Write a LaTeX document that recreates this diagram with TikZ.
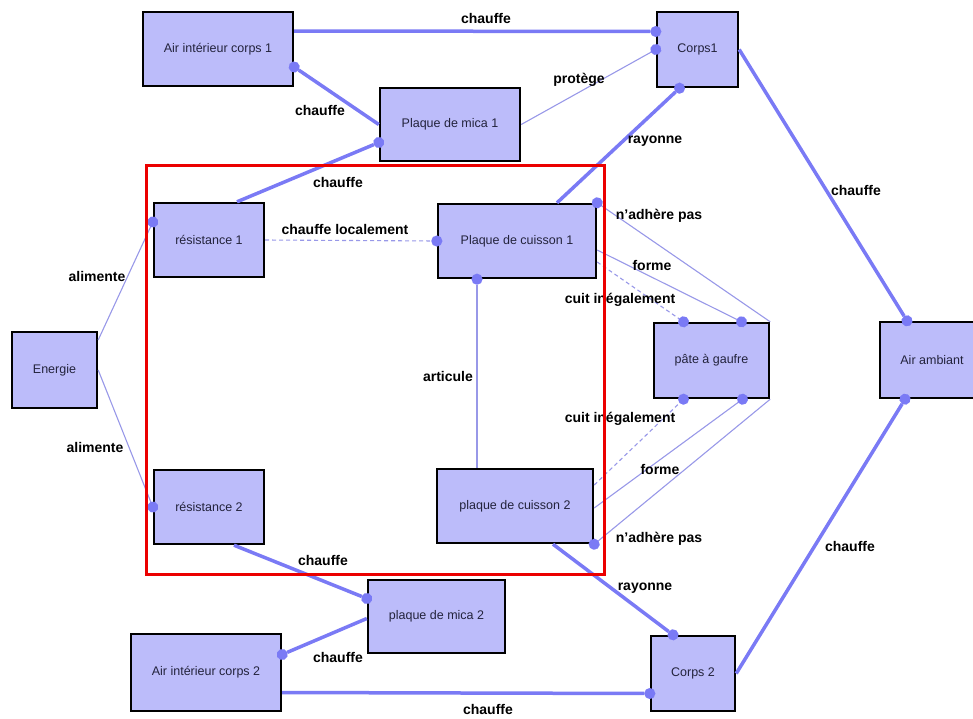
\documentclass[tikz,border=0pt]{standalone}
\usepackage{fontspec}
\setmainfont{Liberation Sans}
\usetikzlibrary{arrows.meta}
\definecolor{boxfill}{RGB}{188,188,250}
\definecolor{linkblue}{RGB}{122,122,245}
\definecolor{linkpale}{RGB}{152,152,232}
\definecolor{ink}{RGB}{35,35,60}
\definecolor{alarm}{RGB}{235,0,0}
\tikzset{
  box/.style={draw=black,line width=2.4pt,fill=boxfill,text=ink,inner sep=2pt,
              font=\fontsize{12.5}{15}\selectfont,minimum height=74pt},
  lnk/.style={draw=linkblue,line width=3.5pt},
  weak/.style={draw=linkpale,line width=1.1pt},
  loose/.style={weak,dash pattern=on 4pt off 3pt},
  hit/.style={-{Circle[length=11pt,width=11pt,line width=0.01pt,color=linkblue]},
              shorten >=-5.5pt},
  tag/.style={font=\bfseries\fontsize{14}{16}\selectfont,text=black,inner sep=0pt},
}
\begin{document}
\begin{tikzpicture}[x=1pt,y=-1pt]
    \useasboundingbox (0,0) rectangle (973,718);
    \node[box,minimum width=150pt] (ai1) at (218,49) {Air intérieur corps 1};
    \node[box,minimum width=81pt,minimum height=75pt] (c1) at (697.5,49.5) {Corps1};
    \node[box,minimum width=140pt,minimum height=73pt] (pm1) at (450,124.5) {Plaque de mica 1};
    \node[box,minimum width=110pt] (r1) at (209,240) {résistance 1};
    \node[box,minimum width=158pt] (pc1) at (517,241) {Plaque de cuisson 1};
    \node[box,minimum width=85pt,minimum height=76pt] (en) at (54.5,370) {Energie};
    \node[box,minimum width=115pt,minimum height=75pt] (pg) at (711.5,360.5) {pâte à gaufre};
    \node[box,minimum width=104pt,minimum height=76pt] (aa) at (932,360) {Air ambiant};
    \node[box,minimum width=110pt] (r2) at (209,507) {résistance 2};
    \node[box,minimum width=156pt] (pc2) at (515,506) {plaque de cuisson 2};
    \node[box,minimum width=137pt,minimum height=73pt] (pm2) at (436.5,616.5) {plaque de mica 2};
    \node[box,minimum width=150pt,minimum height=77pt] (ai2) at (206,672.5) {Air intérieur corps 2};
    \node[box,minimum width=84pt,minimum height=75pt] (c2) at (693,673.5) {Corps 2};

    \draw[lnk,hit] ([yshift=18pt]ai1.east) -- ([yshift=18pt]c1.west);
    \draw[lnk,hit] (pm1.west) -- ([yshift=-18pt]ai1.east);
    \draw[weak,hit] (pm1.east) -- (c1.west);
    \draw[lnk,hit] ([xshift=28pt]r1.north) -- ([yshift=-18pt]pm1.west);
    \draw[lnk,hit] ([xshift=40pt]pc1.north) -- ([xshift=-18pt]c1.south);
    \draw[lnk,hit] (c1.east) -- ([xshift=-25pt]aa.north);
    \draw[weak,hit] ([yshift=30pt]en.east) -- ([yshift=18pt]r1.west);
    \draw[weak,hit] (en.east) -- (r2.west);
    \draw[loose,hit] (r1.east) -- (pc1.west);
    \draw[weak,hit] ([xshift=-38pt]pc2.north) -- ([xshift=-40pt]pc1.south);
    \draw[weak,hit] (pg.north east) -- (pc1.north east);
    \draw[weak,hit] ([yshift=-9pt]pc1.east) -- ([xshift=30pt]pg.north);
    \draw[loose,hit] ([yshift=-21pt]pc1.east) -- ([xshift=-28pt]pg.north);
    \draw[loose,hit] ([yshift=21pt]pc2.east) -- ([xshift=-28pt]pg.south);
    \draw[weak,hit] ([yshift=-2pt]pc2.east) -- ([xshift=31pt]pg.south);
    \draw[weak,hit] (pg.south east) -- (pc2.south east);
    \draw[lnk,hit] ([xshift=25pt]r2.south) -- ([yshift=18pt]pm2.west);
    \draw[lnk,hit] ([yshift=-2pt]pm2.west) -- ([yshift=18pt]ai2.east);
    \draw[lnk,hit] ([yshift=-20pt]ai2.east) -- ([yshift=-20pt]c2.west);
    \draw[lnk,hit] ([xshift=38pt]pc2.south) -- ([xshift=-20pt]c2.north);
    \draw[lnk,hit] (c2.east) -- ([xshift=-27pt]aa.south);

    \node[tag] (t1) at (486,18) {chauffe};
    \node[tag] (t2) at (320,110) {chauffe};
    \node[tag] (t3) at (579,80) {protège};
    \node[tag] (t4) at (338,182) {chauffe};
    \node[tag] (t5) at (655,141) {rayonne};
    \node[tag] (t6) at (856,190) {chauffe};
    \node[tag] (t7) at (97,276) {alimente};
    \node[tag] (t8) at (95,447) {alimente};
    \node[tag] (t9) at (345,229) {chauffe localement};
    \node[tag] (t10) at (448,376) {articule};
    \node[tag] (t11) at (659,216) {n'adhère pas};
    \node[tag] (t12) at (652,265) {forme};
    \node[tag] (t13) at (620,300) {cuit inégalement};
    \node[tag] (t14) at (620,419) {cuit inégalement};
    \node[tag] (t15) at (660,469) {forme};
    \node[tag] (t16) at (659,539) {n'adhère pas};
    \node[tag] (t17) at (323,560) {chauffe};
    \node[tag] (t18) at (338,657) {chauffe};
    \node[tag] (t19) at (488,709) {chauffe};
    \node[tag] (t20) at (645,588) {rayonne};
    \node[tag] (t21) at (850,546) {chauffe};

    \draw[alarm,line width=3pt] (146,165) rectangle (604,574);
\end{tikzpicture}
\end{document}
